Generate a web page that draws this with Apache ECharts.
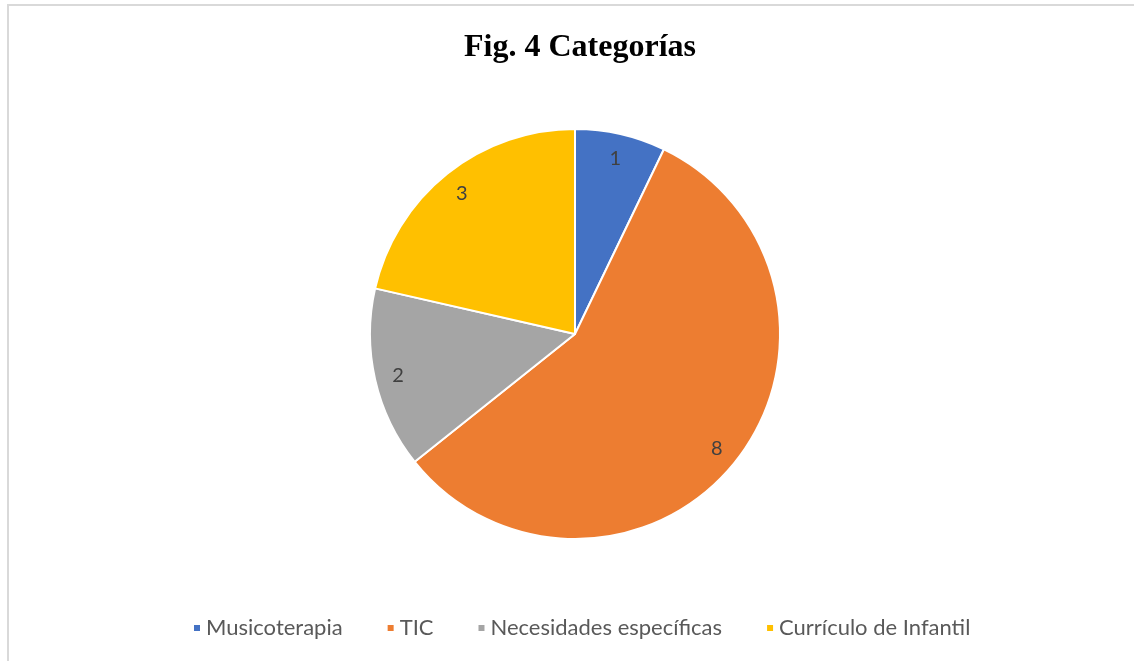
<!DOCTYPE html>
<html>
<head>
<meta charset="utf-8">
<script src="https://cdn.jsdelivr.net/npm/echarts@6/dist/echarts.min.js"></script>
<style>
  html, body { margin: 0; padding: 0; background: #fff; }
  #chart { width: 1134px; height: 661px; }
  #frame { position: absolute; left: 7px; top: 4px; width: 1200px; height: 700px;
           border-left: 2px solid #d9d9d9; border-top: 2px solid #d9d9d9; pointer-events: none; }
</style>
</head>
<body>
<div id="chart"></div>
<div id="frame"></div>
<script>
const categories = ['Musicoterapia', 'TIC', 'Necesidades específicas', 'Currículo de Infantil'];
const counts = [1, 8, 2, 3];
const colors = ['#4472C4', '#ED7D31', '#A5A5A5', '#FFC000'];

const cx = 575, cy = 334, radius = 205;
// Excel puts the numbers at about 0.86 of the radius, echarts 'inside' uses 0.5
const labelScale = 0.86 / 0.5;

const chart = echarts.init(document.getElementById('chart'));

chart.setOption({
  animation: false,
  title: {
    text: 'Fig. 4 Categorías',
    left: cx,
    textAlign: 'center',
    top: 27,
    textStyle: { fontFamily: 'Liberation Serif', fontWeight: 'bold', fontSize: 32, color: '#000' }
  },
  legend: {
    bottom: 17,
    left: 187,
    icon: 'rect',
    itemWidth: 8,
    itemHeight: 8,
    itemGap: 43,
    textStyle: { fontFamily: 'Lato', fontSize: 22, color: '#595959' },
    data: categories
  },
  series: [{
    type: 'pie',
    center: [cx, cy],
    radius: [0, radius],
    startAngle: 90,
    clockwise: true,
    data: categories.map((c, i) => ({ name: c, value: counts[i], itemStyle: { color: colors[i] } })),
    itemStyle: { borderColor: '#fff', borderWidth: 2 },
    label: {
      show: true,
      position: 'inside',
      formatter: '{c}',
      fontFamily: 'Lato',
      fontSize: 20,
      color: '#404040'
    },
    labelLayout: function (params) {
      const r = params.labelRect;
      const mx = r.x + r.width / 2 - cx;
      const my = r.y + r.height / 2 - cy;
      return { x: cx + mx * labelScale, y: cy + my * labelScale + 1 };
    },
    emphasis: { disabled: true }
  }]
});
</script>
</body>
</html>
